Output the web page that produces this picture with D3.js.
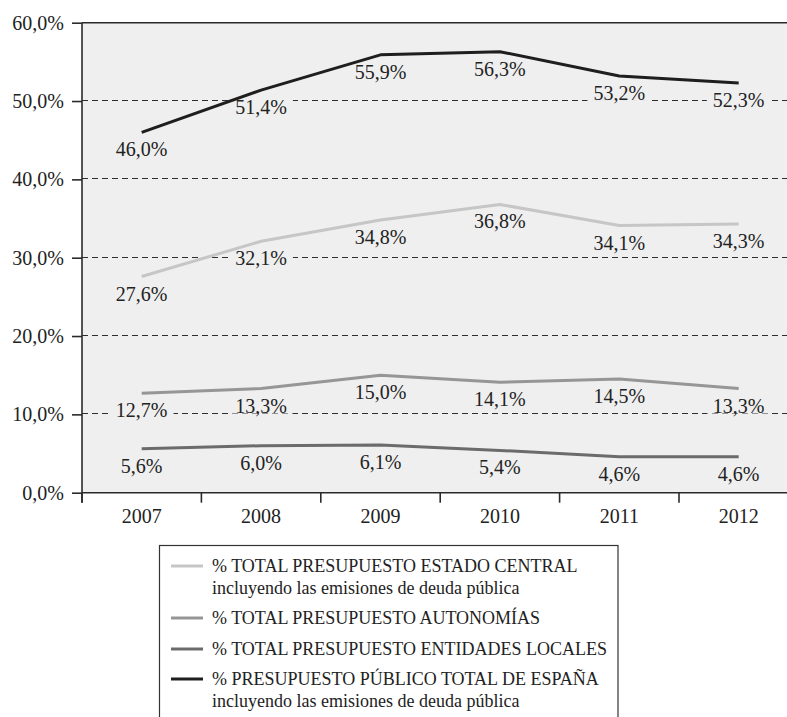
<!DOCTYPE html>
<html>
<head>
<meta charset="utf-8">
<script src="https://cdn.jsdelivr.net/npm/d3@7"></script>
<style>
  html, body { margin: 0; padding: 0; background: #ffffff; }
  svg { display: block; }
  text { font-family: "Liberation Serif", "DejaVu Serif", serif; fill: #222; }
</style>
</head>
<body>
<svg id="chart" width="787" height="717"></svg>
<script>
// ---------- data ----------
const years = ["2007", "2008", "2009", "2010", "2011", "2012"];
const estadoCentral = [27.6, 32.1, 34.8, 36.8, 34.1, 34.3];
const autonomias = [12.7, 13.3, 15.0, 14.1, 14.5, 13.3];
const entidadesLocales = [5.6, 6.0, 6.1, 5.4, 4.6, 4.6];
const totalEspana = [46.0, 51.4, 55.9, 56.3, 53.2, 52.3];
const yTicks = [0, 10, 20, 30, 40, 50, 60];
const seriesNames = [
  ["% TOTAL PRESUPUESTO ESTADO CENTRAL", "incluyendo las emisiones de deuda pública"],
  ["% TOTAL PRESUPUESTO AUTONOMÍAS"],
  ["% TOTAL PRESUPUESTO ENTIDADES LOCALES"],
  ["% PRESUPUESTO PÚBLICO TOTAL DE ESPAÑA", "incluyendo las emisiones de deuda pública"]
];

(function () {
// ---------- styling ----------
const series = [
  { values: estadoCentral, color: "#c6c6c6" },
  { values: autonomias, color: "#969696" },
  { values: entidadesLocales, color: "#6b6b6b" },
  { values: totalEspana, color: "#1e1e1e" }
];

const W = 787, H = 717;
const plotL = 82, plotT = 22.7, plotB = 492.7;
const bandW = 119.4;

const svg = d3.select("#chart");
const x = d3.scaleBand().domain(years).range([plotL, plotL + bandW * years.length]);
const y = d3.scaleLinear().domain([0, 60]).range([plotB, plotT]);
const fmt = v => d3.format(".1f")(v).replace(".", ",") + "%";
const crisp = v => Math.round(v) + 0.5;

// plot background
svg.append("rect")
  .attr("x", plotL).attr("y", plotT)
  .attr("width", W - plotL).attr("height", plotB - plotT)
  .attr("fill", "#efefef");

// dashed gridlines
svg.append("g").selectAll("line")
  .data(yTicks.filter(t => t > 0 && t < 60))
  .join("line")
  .attr("x1", plotL).attr("x2", W)
  .attr("y1", d => crisp(y(d)) - 1).attr("y2", d => crisp(y(d)) - 1)
  .attr("stroke", "#2e2e2e").attr("stroke-width", 1)
  .attr("stroke-dasharray", "6,4");

// top border
svg.append("line")
  .attr("x1", plotL).attr("x2", W)
  .attr("y1", y(60)).attr("y2", y(60))
  .attr("stroke", "#2a2a2a").attr("stroke-width", 1.6);

// y axis
const yAxis = svg.append("g")
  .attr("transform", `translate(${plotL},0)`)
  .call(d3.axisLeft(y).tickValues(yTicks).tickSize(10).tickPadding(8).tickFormat(fmt));
yAxis.select(".domain").remove();
yAxis.selectAll(".tick line").attr("stroke", "#2a2a2a").attr("stroke-width", 1.6);
yAxis.selectAll(".tick text")
  .attr("font-size", 20)
  .attr("font-family", "Liberation Serif, serif")
  .attr("fill", "#222");
svg.append("line")
  .attr("x1", plotL).attr("x2", plotL)
  .attr("y1", plotT).attr("y2", plotB + 10)
  .attr("stroke", "#2a2a2a").attr("stroke-width", 1.6);

// x axis
const xAxis = svg.append("g")
  .attr("transform", `translate(0,${plotB})`)
  .call(d3.axisBottom(x).tickSize(0).tickPadding(16));
xAxis.select(".domain").remove();
xAxis.selectAll(".tick text")
  .attr("font-size", 20)
  .attr("font-family", "Liberation Serif, serif")
  .attr("fill", "#222");
svg.append("line")
  .attr("x1", plotL).attr("x2", W)
  .attr("y1", plotB).attr("y2", plotB)
  .attr("stroke", "#2a2a2a").attr("stroke-width", 1.6);
const boundaries = years.map(d => x(d)).concat([x(years[years.length - 1]) + x.bandwidth()]);
svg.append("g").selectAll("line")
  .data(boundaries)
  .join("line")
  .attr("x1", d => d).attr("x2", d => d)
  .attr("y1", plotB).attr("y2", plotB + 10)
  .attr("stroke", "#2a2a2a").attr("stroke-width", 1.6);

const cx = d => x(d) + x.bandwidth() / 2;

const labelLayer = svg.append("g");
const lineLayer = svg.append("g");
const textLayer = svg.append("g");

series.forEach(s => {
  lineLayer.append("path")
    .datum(s.values)
    .attr("fill", "none")
    .attr("stroke", s.color)
    .attr("stroke-width", 3)
    .attr("stroke-linejoin", "round")
    .attr("d", d3.line().x((v, i) => cx(years[i])).y(v => y(v)));

  s.values.forEach((v, i) => {
    const t = textLayer.append("text")
      .attr("x", cx(years[i]))
      .attr("y", y(v) + 24)
      .attr("text-anchor", "middle")
      .attr("font-size", 20)
      .text(fmt(v));
    const bb = t.node().getBBox();
    labelLayer.append("rect")
      .attr("x", bb.x - 6).attr("y", bb.y + 3)
      .attr("width", bb.width + 12).attr("height", bb.height - 6)
      .attr("fill", "#efefef");
  });
});

// legend
const legX = 159.5, legY = 545.5, legW = 458.5;
svg.append("rect")
  .attr("x", legX).attr("y", legY)
  .attr("width", legW).attr("height", 200)
  .attr("fill", "#ffffff")
  .attr("stroke", "#333").attr("stroke-width", 1.2);

const rowY = [566, 618, 649, 679];
seriesNames.forEach((lines, i) => {
  svg.append("line")
    .attr("x1", 171).attr("x2", 203)
    .attr("y1", rowY[i]).attr("y2", rowY[i])
    .attr("stroke", series[i].color).attr("stroke-width", 3);
  const t = svg.append("text")
    .attr("x", 212)
    .attr("y", rowY[i] + 6)
    .attr("font-size", 18);
  lines.forEach((ln, j) => {
    t.append("tspan").attr("x", 212).attr("dy", j === 0 ? 0 : 22).text(ln);
  });
});
})();
</script>
</body>
</html>
